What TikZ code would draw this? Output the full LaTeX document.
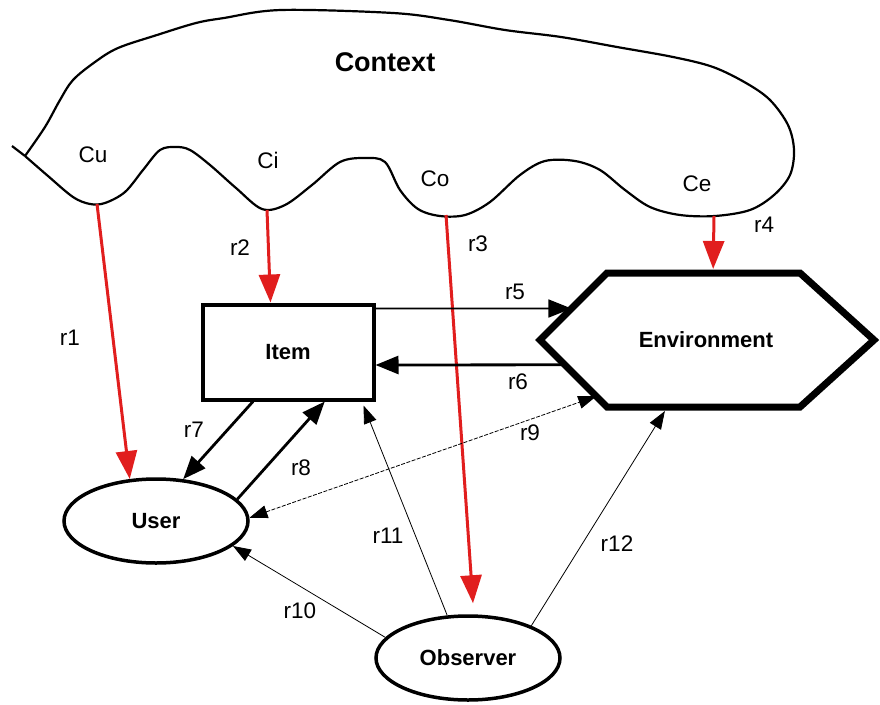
\documentclass[tikz,border=0pt]{standalone}
\usepackage{fontspec}
\setmainfont{Liberation Sans}
\usetikzlibrary{calc,arrows.meta,shapes.geometric}
\definecolor{ctxred}{RGB}{225,30,30}
\begin{document}
\begin{tikzpicture}[x=1pt,y=-1pt]
\tikzstyle{lbl}=[font=\fontsize{22.5}{26}\selectfont,inner sep=0pt]
\tikzstyle{ttl}=[font=\fontsize{22}{26}\selectfont\bfseries]
\tikzstyle{itembox}=[ttl,draw,line width=4pt,minimum width=171pt,minimum height=95pt]
\tikzstyle{oval}=[ttl,ellipse,draw,line width=3.5pt,minimum width=184pt,minimum height=84pt]
\tikzstyle{redarr}=[ctxred,line width=3pt,-{Triangle[length=28pt,width=21pt]}]
\tikzstyle{thickarr}=[line width=2.8pt,-{Triangle[length=23pt,width=18pt]}]
\tikzstyle{thinarr}=[line width=0.8pt,-{Triangle[length=18pt,width=13pt]}]
\useasboundingbox (0,0) rectangle (880,704);

% ========= context cloud
\draw [line width=2.2pt] plot [smooth,tension=0.55] coordinates {
  (25,156) (48,176) (73,197) (90,204) (105,203) (125,192) (143,170) (160,150)
  (176,147) (190,150) (210,165) (236,188) (262,209) (285,205) (312,185) (340,162)
  (365,158) (385,162) (400,190) (418,209) (440,216) (465,215) (490,202) (520,175)
  (545,161) (575,161) (600,170) (625,190) (650,207) (680,215) (715,216) (750,210)
  (774,195) (790,175) (794,150) (788,125) (770,100) (746,83) (713,67) (673,57)
  (617,47) (561,37) (505,30) (449,20) (393,13) (281,10) (224,18) (196,23)
  (157,35) (118,48) (95,62) (73,80) (60,100) (45,127) (25,156)};
\draw [line width=2.2pt] (12,146) -- (25,156);
\node (ctx) [font=\fontsize{27}{30}\selectfont\bfseries] at (385,62) {Context};
\node (lcu) [lbl] at (93,155) {Cu};
\node (lci) [lbl] at (268,160) {Ci};
\node (lco) [lbl] at (435,179) {Co};
\node (lce) [lbl] at (697,184) {Ce};
\coordinate (cu) at (97,204);
\coordinate (ci) at (267,210);
\coordinate (co) at (446,215);
\coordinate (ce) at (714,216);

% ========= environment
\coordinate (hl) at (540,340);
\coordinate (htl) at (607,273);
\coordinate (htr) at (800,273);
\coordinate (hr) at (874,340);
\coordinate (hbr) at (800,407);
\coordinate (hbl) at (607,407);
\draw [line width=7pt,line join=miter] (hl) -- (htl) -- (htr) -- (hr) -- (hbr) -- (hbl) -- cycle;
\node (env) [ttl] at (706,340) {Environment};

% ========= item, user, observer
\node (item) [itembox] at (288,352) {Item};
\node (user) [oval] at (156,521) {User};
\node (obs) [oval] at (468,658) {Observer};

% ====== context relations
\draw [redarr] (cu) -- (user.122);
\draw [redarr] (ci) -- ($(item.north west)!0.4!(item.north east)$);
\draw [redarr] (co) -- ($(obs.north)+(5,-11)$);
\draw [redarr] (ce) -- ($(htl)!0.55!(htr)+(0,-4)$);

% ====== other relations
\draw [thickarr,line width=1.6pt] ($(item.north east)+(0,6)$) -- ($(hl)!0.47!(htl)$);
\draw [thickarr] ($(hl)!0.37!(hbl)$) -- ($(item.east)+(0,13)$);
\draw [thickarr] ($(item.south west)!0.3!(item.south east)$) -- (user.57);
\draw [thickarr] (user.15) -- ($(item.south west)!0.71!(item.south east)$);
\draw [thinarr,{Triangle[length=18pt,width=13pt]}-{Triangle[length=18pt,width=13pt]},dash pattern=on 4pt off 1.5pt] (user.2) -- ($(hl)!0.84!(hbl)$);
\draw [thinarr] (obs.166) -- (user.-18);
\draw [thinarr] (obs.116) -- ($(item.south east)+(-12,4)$);
\draw [thinarr] (obs.27) -- ($(hbl)!0.3!(hbr)+(0,4)$);

%% ===== labels
\node (lr1) [lbl] at (70,338) {r1};
\node (lr2) [lbl] at (240,248) {r2};
\node (lr3) [lbl] at (478,244) {r3};
\node (lr4) [lbl] at (764,225) {r4};
\node (lr5) [lbl] at (515,292) {r5};
\node (lr6) [lbl] at (518,382) {r6};
\node (lr7) [lbl] at (194,430) {r7};
\node (lr8) [lbl] at (301,468) {r8};
\node (lr9) [lbl] at (530,433) {r9};
\node (lr10) [lbl] at (300,611) {r10};
\node (lr11) [lbl] at (388,536) {r11};
\node (lr12) [lbl] at (617,544) {r12};
\end{tikzpicture}
\end{document}
